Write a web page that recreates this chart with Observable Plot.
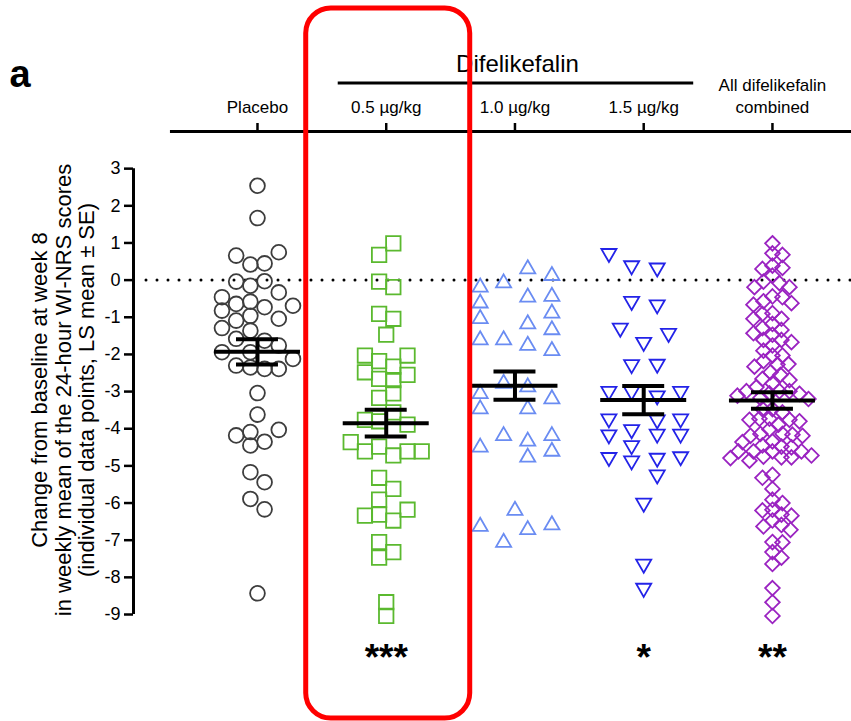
<!DOCTYPE html>
<html>
<head>
<meta charset="utf-8">
<script src="https://cdn.jsdelivr.net/npm/d3@7"></script>
<script src="https://cdn.jsdelivr.net/npm/@observablehq/plot@0.6"></script>
<style>
  body { margin: 0; background: #fff; }
  #chart { width: 851px; height: 721px; }
</style>
</head>
<body>
<div id="chart"></div>
<script>
// ---------------- data ----------------
const groups = ["Placebo", "0.5 µg/kg", "1.0 µg/kg", "1.5 µg/kg", "All difelikefalin\ncombined"];
const lsMean = [-1.93, -3.85, -2.84, -3.23, -3.24];
const lsSE = [0.34, 0.36, 0.38, 0.38, 0.22];
const stars = ["", "***", "", "*", "**"];
const yTicks = [-9, -8, -7, -6, -5, -4, -3, -2, -1, 0, 1, 2, 3];

const placeboValues = [2.54, 1.67, 0.66, 0.75, 0.42, 0.45, -0.04, -0.03, -0.15, -0.33, -0.46, -0.64, -0.58, -0.73, -0.69,
  -0.82, -0.96, -1.09, -1.04, -1.29, -1.36, -1.58, -1.63, -1.76, -1.94, -1.94, -2.12, -2.30, -2.35, -2.39, -2.39,
  -3.04, -3.62, -4.18, -4.09, -4.03, -4.45, -4.35, -5.17, -5.44, -5.89, -6.17, -8.43];
const placeboLanes = [0, 0, -3, 3, -1, 1, -3, 1, -1, 3, -5, -3, -1, 1, 5,
  -5, -1, -3, 3, -5, -1, -3, 1, 3, -5, -1, 5, -3, -1, 1, 3,
  0, 0, -3, -1, 3, -1, 1, -1, 1, -1, 1, 0];

const dose05Values = [0.99, 0.68, -0.04, -0.19, -0.91, -1.04, -1.47, -2.03, -2.18, -2.03, -2.33, -2.48, -2.55, -2.66, -2.69,
  -3.17, -3.05, -3.56, -3.76, -3.80, -3.89, -4.36, -4.61, -4.48, -4.72, -4.61, -4.61, -5.32, -5.62, -5.91, -6.34,
  -6.31, -6.47, -6.18, -7.05, -7.47, -7.32, -8.67, -9.04];
const dose05Lanes = [1, -1, -1, 1, -1, 1, 0, -3, -1, 3, 1, -3, 3, -1, 1,
  -1, 1, 1, -3, -1, 3, -5, -3, -1, 1, 3, 5, -1, 1, -1, -3,
  -1, 1, 3, -1, -1, 1, 0, 0];

const dose10Values = [-0.19, -0.62, -1.04, -1.61, -3.06, -3.47, -4.50, -6.63,
  -0.08, -1.61, -2.78, -4.19, -7.06,
  -6.20,
  0.30, -0.46, -1.18, -1.76, -2.88, -3.47, -4.34, -4.77, -6.72,
  0.12, -0.44, -0.89, -1.34, -1.90, -3.20, -4.19, -4.61, -6.59];
const dose10Lanes = [-4.9, -4.9, -4.9, -4.9, -4.9, -4.9, -4.9, -4.9,
  -1.6, -1.6, -1.6, -1.6, -1.6,
  0,
  1.8, 1.8, 1.8, 1.8, 1.8, 1.8, 1.8, 1.8, 1.8,
  5.2, 5.2, 5.2, 5.2, 5.2, 5.2, 5.2, 5.2, 5.2];

const dose15Values = [0.72, 0.39, 0.33, -0.57, -0.66, -1.29, -1.43, -1.67, -2.27, -2.26, -2.99, -2.99, -3.11, -2.99,
  -3.73, -3.76, -3.73, -4.02, -4.16, -4.14, -4.14, -4.45, -4.77, -4.86, -4.79, -4.75, -5.24, -6.00, -7.64, -8.29];
const dose15Lanes = [-4.9, -1.7, 1.9, -1.7, 1.9, -3.3, 3.5, 0, -1.7, 1.9, -4.9, -1.7, 1.9, 5.2,
  -4.9, 1.9, 5.2, -1.7, -4.9, 1.9, 5.2, -1.7, -4.9, -1.7, 1.9, 5.2, 1.9, 0, 0, 0];

// combined group = all difelikefalin patients
const combinedValues = [...dose05Values, ...dose10Values, ...dose15Values];

// ---------------- layout ----------------
const W = 851, H = 721, mL = 133, mR = 0, mT = 131, mB = 107;
const yDom = [-9, 4];
const xDom = [-0.963, 4.614];
const pxPerY = (H - mT - mB) / (yDom[1] - yDom[0]);
const pxPerX = (W - mL - mR) / (xDom[1] - xDom[0]);
const LANE = 7.1 / pxPerX;

function swarm(values, d, step) {
  const order = d3.range(values.length).sort((a, b) => values[b] - values[a]);
  const placed = [];
  const off = new Array(values.length);
  let flip = 1;
  for (const i of order) {
    const py = values[i] * pxPerY;
    let found = null;
    for (let k = 0; found === null; k++) {
      const cands = k === 0 ? [0] : [flip * k * step, -flip * k * step];
      for (const c of cands) {
        if (placed.every(p => Math.hypot(p.x - c, p.y - py) >= d)) { found = c; break; }
      }
    }
    flip = -flip;
    placed.push({x: found, y: py});
    off[i] = found;
  }
  return off;
}

const rows = (g, vals, lanes) => vals.map((v, i) => ({g, v, x: g + lanes[i] * LANE}));
const placeboRows = rows(0, placeboValues, placeboLanes);
const d05Rows = rows(1, dose05Values, dose05Lanes);
const d10Rows = rows(2, dose10Values, dose10Lanes);
const d15Rows = rows(3, dose15Values, dose15Lanes);
const combOff = swarm(combinedValues, 10, 1);
const combRows = combinedValues.map((v, i) => ({g: 4, v, x: 4 + combOff[i] / pxPerX}));

const summary = groups.map((name, i) => ({i, name, mean: lsMean[i], se: lsSE[i], star: stars[i]}));

const triangleDown = {
  draw(ctx, size) {
    const s = Math.sqrt(size) * 0.6824, t = s / 2, u = s * Math.sqrt(3) / 2;
    ctx.moveTo(0, s); ctx.lineTo(u, -t); ctx.lineTo(-u, -t); ctx.closePath();
  }
};

const FONT = "'Liberation Sans', Arial, Helvetica, sans-serif";
const SW = 1.8;

const svg = Plot.plot({
  width: W, height: H,
  marginLeft: mL, marginRight: mR, marginTop: mT, marginBottom: mB,
  style: {fontFamily: FONT, fontSize: "16px", background: "white", color: "black"},
  x: {type: "linear", domain: xDom},
  y: {domain: yDom},
  marks: [
    // zero reference
    Plot.ruleY([0], {stroke: "black", strokeWidth: 3, strokeDasharray: "0 11", strokeLinecap: "round", insetLeft: 13}),
    // y axis
    Plot.axisY({ticks: yTicks, tickSize: 9, tickPadding: 4, fontSize: 18, strokeWidth: 2.5, tickFormat: d => String(d), label: null}),
    Plot.ruleX([xDom[0]], {y1: yTicks[0], y2: yTicks[yTicks.length - 1], strokeWidth: 3}),
    // top categorical axis
    Plot.axisX({anchor: "top", ticks: [0, 1, 2, 3, 4], tickSize: 9, strokeWidth: 2.5, tickFormat: () => "", label: null}),
    Plot.ruleY([yDom[1]], {x1: -0.676, x2: xDom[1], strokeWidth: 3}),
    Plot.text(summary, {x: "i", text: "name", frameAnchor: "top", lineAnchor: "bottom", dy: -19, fontSize: 17, lineHeight: 1.25}),
    // points
    Plot.dot(placeboRows, {x: "x", y: "v", r: 7.4, stroke: "#3d3d3d", strokeWidth: SW, fill: "none"}),
    Plot.dot(d05Rows, {x: "x", y: "v", symbol: "square2", r: 9.2, stroke: "#5bb92f", strokeWidth: SW, fill: "none"}),
    Plot.dot(d10Rows, {x: "x", y: "v", symbol: "triangle2", r: 7.2, stroke: "#6a8cf2", strokeWidth: SW, fill: "none"}),
    Plot.dot(d15Rows, {x: "x", y: "v", symbol: triangleDown, r: 7.2, stroke: "#2323e8", strokeWidth: SW, fill: "none"}),
    Plot.dot(combRows, {x: "x", y: "v", symbol: "diamond2", r: 6.6, stroke: "#9a23c1", strokeWidth: SW, fill: "none"}),
    // LS mean ± SE
    Plot.ruleY(summary, {y: "mean", x1: d => d.i - 0.334, x2: d => d.i + 0.334, strokeWidth: 4}),
    Plot.ruleY(summary, {y: d => d.mean + d.se, x1: d => d.i - 0.163, x2: d => d.i + 0.163, strokeWidth: 4}),
    Plot.ruleY(summary, {y: d => d.mean - d.se, x1: d => d.i - 0.163, x2: d => d.i + 0.163, strokeWidth: 4}),
    Plot.ruleX(summary, {x: "i", y1: d => d.mean - d.se, y2: d => d.mean + d.se, strokeWidth: 4}),
    // significance
    Plot.text(summary, {x: "i", text: "star", frameAnchor: "bottom", lineAnchor: "bottom", dy: 55, fontSize: 37, fontWeight: "bold"})
  ]
});

// ---------------- annotations ----------------
const xs = svg.scale("x");
const s = d3.select(svg);
s.append("text").attr("x", 20).attr("y", 87).attr("font-size", 38).attr("font-weight", "bold")
  .attr("font-family", FONT).text("a");
s.append("text").attr("x", (xs.apply(1) + xs.apply(3)) / 2 + 3).attr("y", 72).attr("text-anchor", "middle")
  .attr("font-size", 24).attr("font-family", FONT).text("Difelikefalin");
s.append("line").attr("x1", xs.apply(1) - 48).attr("x2", xs.apply(3) + 50).attr("y1", 83).attr("y2", 83)
  .attr("stroke", "black").attr("stroke-width", 3);

const yLabel = ["Change from baseline at week 8",
  "in weekly mean of the 24-hour WI-NRS scores",
  "(individual data points, LS mean ± SE)"];
const yl = s.append("text").attr("transform", "translate(63,390) rotate(-90)")
  .attr("text-anchor", "middle").attr("font-size", 22).attr("font-family", FONT);
yLabel.forEach((t, i) => yl.append("tspan").attr("x", 0).attr("y", (i - 1) * 23.5).attr("dominant-baseline", "central").text(t));

// highlight box around the 0.5 µg/kg group
s.append("rect").attr("x", xs.apply(1) - 80).attr("y", 8).attr("width", 164).attr("height", 710)
  .attr("rx", 25).attr("ry", 25).attr("fill", "none").attr("stroke", "#ff0000").attr("stroke-width", 5);

document.getElementById("chart").appendChild(svg);
</script>
</body>
</html>
